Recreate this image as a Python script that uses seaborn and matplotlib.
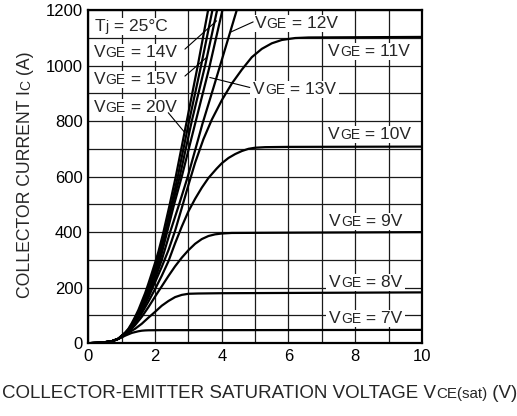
import matplotlib
matplotlib.use('Agg')
import matplotlib.pyplot as plt
import matplotlib.patches as mpatches
from matplotlib.transforms import ScaledTranslation, IdentityTransform, Bbox
import seaborn as sns

# Output characteristics, Ic vs Vce(sat) at Tj = 25C
vge7_x = [0, 0.4, 0.7, 0.9, 1.0, 1.1, 1.2, 1.3, 1.4, 1.5, 1.6, 1.7, 1.8, 2.2, 4.0, 10.0]
vge7_y = [0, 2, 7, 16, 21, 27, 32, 37, 40, 43, 45, 46, 46.5, 47, 47, 48]
vge8_x = [0, 0.4, 0.7, 0.9, 1.0, 1.1, 1.2, 1.4, 1.6, 1.8, 2.0, 2.2, 2.4, 2.6, 2.8, 3.0, 3.3, 4.0, 10.0]
vge8_y = [0, 2, 7, 16, 22, 30, 38, 52, 70, 92, 113, 135, 152, 166, 174, 178, 179, 180, 183]
vge9_x = [0, 0.4, 0.7, 0.9, 1.0, 1.1, 1.2, 1.4, 1.6, 1.8, 2.0, 2.2, 2.4, 2.6, 2.8, 3.0, 3.2,
          3.4, 3.6, 3.8, 4.0, 4.3, 6.0, 10.0]
vge9_y = [0, 2, 7, 16, 24, 31, 40, 65, 95, 130, 168, 205, 242, 277, 308, 335, 358,
          375, 386, 392, 395, 397, 398, 400]
vge10_x = [0, 0.4, 0.7, 0.9, 1.0, 1.1, 1.2, 1.4, 1.6, 1.8, 2.0, 2.2, 2.4, 2.6, 2.8, 3.0,
           3.2, 3.4, 3.6, 3.84, 4.0, 4.2, 4.4, 4.6, 4.8, 5.0, 5.3, 6.0, 10.0]
vge10_y = [0, 2, 7, 16, 25, 33, 42, 72, 108, 150, 195, 243, 295, 360, 420, 475,
           520, 560, 595, 628, 648, 667, 681, 692, 700, 704, 706, 707, 708]
vge11_x = [0, 0.4, 0.7, 0.9, 1.0, 1.1, 1.2, 1.4, 1.6, 1.8, 2.0, 2.2, 2.4, 2.6, 2.8, 3.0,
           3.2, 3.45, 3.7, 4.0, 4.3, 4.6, 4.9, 5.2, 5.5, 5.8, 6.2, 6.6, 10.0]
vge11_y = [0, 2, 7, 16, 26, 35, 45, 78, 118, 165, 220, 275, 335, 405, 487, 570,
           650, 735, 805, 875, 935, 985, 1030, 1060, 1080, 1092, 1099, 1101, 1103]
vge12_x = [0, 0.4, 0.7, 0.9, 1.0, 1.1, 1.2, 1.3, 1.4, 1.5, 1.6, 1.7, 1.8, 1.95, 2.2, 2.45,
           2.72, 2.98, 3.42, 3.75, 4.05, 4.25, 4.45]
vge12_y = [0, 2, 7, 16, 27, 35, 45, 60, 78, 98, 120, 145, 172, 215, 300, 400,
           500, 600, 790, 920, 1040, 1120, 1200]
vge13_x = [0, 0.4, 0.7, 0.9, 1.0, 1.1, 1.2, 1.3, 1.4, 1.5, 1.6, 1.7, 1.8, 1.9, 2.0, 2.15,
           2.36, 2.57, 2.8, 3.22, 3.62, 4.02]
vge13_y = [0, 2, 7, 16, 27, 36, 47, 63, 82, 103, 127, 153, 182, 213, 247, 300,
           400, 500, 600, 800, 990, 1200]
vge14_x = [0, 0.4, 0.7, 0.9, 1.0, 1.1, 1.2, 1.3, 1.4, 1.5, 1.6, 1.7, 1.8, 1.9, 2.0, 2.12,
           2.31, 2.52, 2.74, 3.1, 3.5, 3.86]
vge14_y = [0, 2, 7, 16, 27, 36, 48, 65, 86, 108, 133, 160, 192, 226, 262, 305,
           395, 500, 600, 800, 1000, 1200]
vge15_x = [0, 0.4, 0.7, 0.9, 1.0, 1.1, 1.2, 1.3, 1.4, 1.5, 1.6, 1.7, 1.8, 1.9, 2.0, 2.1,
           2.28, 2.48, 2.68, 3.02, 3.38, 3.72]
vge15_y = [0, 2, 7, 16, 27, 37, 50, 68, 90, 113, 140, 170, 203, 238, 275, 313,
           390, 495, 600, 800, 1000, 1200]
vge20_x = [0, 0.4, 0.7, 0.9, 1.0, 1.1, 1.2, 1.3, 1.4, 1.5, 1.6, 1.7, 1.8, 1.9, 2.0, 2.1,
           2.24, 2.43, 2.62, 2.95, 3.28, 3.59]
vge20_y = [0, 2, 7, 16, 27, 38, 52, 72, 95, 120, 150, 180, 215, 252, 290, 330,
           395, 495, 600, 800, 1000, 1200]

curves = [(vge7_x, vge7_y), (vge8_x, vge8_y), (vge9_x, vge9_y), (vge10_x, vge10_y),
          (vge11_x, vge11_y), (vge12_x, vge12_y), (vge13_x, vge13_y), (vge14_x, vge14_y),
          (vge15_x, vge15_y), (vge20_x, vge20_y)]

x_ticks = [0, 2, 4, 6, 8, 10]
y_ticks = [0, 200, 400, 600, 800, 1000, 1200]

sns.set_style('white')
plt.rcParams['font.family'] = ['Liberation Sans', 'DejaVu Sans']

fig = plt.figure(figsize=(5.17, 4.16), dpi=100)
ax = fig.add_axes([0.171, 0.175, 0.645, 0.801])

for xs, ys in curves:
    sns.lineplot(x=xs, y=ys, ax=ax, color='black', linewidth=1.6, sort=False,
                 estimator=None, zorder=3)

ax.set_xlim(0, 10)
ax.set_ylim(0, 1200)
ax.set_xticks(x_ticks)
ax.set_yticks(y_ticks)
ax.set_xticks(range(1, 10), minor=True)
ax.set_yticks(range(100, 1200, 200), minor=True)
ax.set_xticklabels([str(v) for v in x_ticks], fontsize=12)
ax.set_yticklabels([str(v) for v in y_ticks], fontsize=12)
ax.tick_params(which='both', length=0, colors='black')
ax.tick_params(axis='x', pad=4)
ax.tick_params(axis='y', pad=4)
ax.grid(which='both', color='#1a1a1a', linewidth=0.9)
ax.set_axisbelow(True)
for sp in ax.spines.values():
    sp.set_color('black')
    sp.set_linewidth(1.6)

renderer = fig.canvas.get_renderer()


def rich_text(x, y, pieces, transform, rotation=0, box=False):
    # draw text made of pieces in different sizes, sharing one baseline
    shift = 0.0
    extents = []
    for s, size in pieces:
        if rotation == 90:
            off = ScaledTranslation(0, shift / fig.dpi, fig.dpi_scale_trans)
        else:
            off = ScaledTranslation(shift / fig.dpi, 0, fig.dpi_scale_trans)
        t = ax.text(x, y, s, fontsize=size, transform=transform + off, ha='left',
                    va='baseline', rotation=rotation, rotation_mode='anchor',
                    zorder=6, clip_on=False)
        bb = t.get_window_extent(renderer)
        extents.append(bb)
        shift += bb.height if rotation == 90 else bb.width
    if box:
        u = Bbox.union(extents)
        rect = mpatches.Rectangle((u.x0 - 3, u.y0 - 1), u.width + 6, u.height + 2,
                                  transform=IdentityTransform(), facecolor='white',
                                  edgecolor='none', zorder=5)
        ax.add_artist(rect)


big, small = 12.5, 10
labels = [
    (0.20, 1125, [('T', big), ('j', small), (' = 25°C', big)]),
    (0.17, 1032, [('V', big), ('GE', small), (' = 14V', big)]),
    (0.17, 932, [('V', big), ('GE', small), (' = 15V', big)]),
    (0.17, 834, [('V', big), ('GE', small), (' = 20V', big)]),
    (4.99, 1134, [('V', big), ('GE', small), (' = 12V', big)]),
    (7.19, 1035, [('V', big), ('GE', small), (' = 11V', big)]),
    (4.94, 899, [('V', big), ('GE', small), (' = 13V', big)]),
    (7.19, 736, [('V', big), ('GE', small), (' = 10V', big)]),
    (7.22, 421, [('V', big), ('GE', small), (' = 9V', big)]),
    (7.22, 204, [('V', big), ('GE', small), (' = 8V', big)]),
    (7.22, 72, [('V', big), ('GE', small), (' = 7V', big)]),
]
for lx, ly, pieces in labels:
    rich_text(lx, ly, pieces, ax.transData, box=True)

# leader lines from labels to curves
leaders = [
    ((2.895, 3.844), (1059, 1161)),
    ((2.895, 3.545), (962, 1029)),
    ((2.395, 2.895), (830, 758)),
    ((4.94, 4.24), (1157, 1119)),
    ((4.84, 3.64), (921, 957)),
]
for lxs, lys in leaders:
    ax.plot(lxs, lys, color='black', linewidth=0.8, zorder=6)

# axis titles
rich_text(0.058, 0.284, [('COLLECTOR CURRENT I', 12.7), ('C', 10), (' (A)', 12.7)],
          fig.transFigure, rotation=90)
rich_text(0.004, 0.043, [('COLLECTOR-EMITTER SATURATION VOLTAGE V', 13.5),
                         ('CE(sat)', 10.9), (' (V)', 13.5)], fig.transFigure)

fig.savefig('out.png', dpi=100)
